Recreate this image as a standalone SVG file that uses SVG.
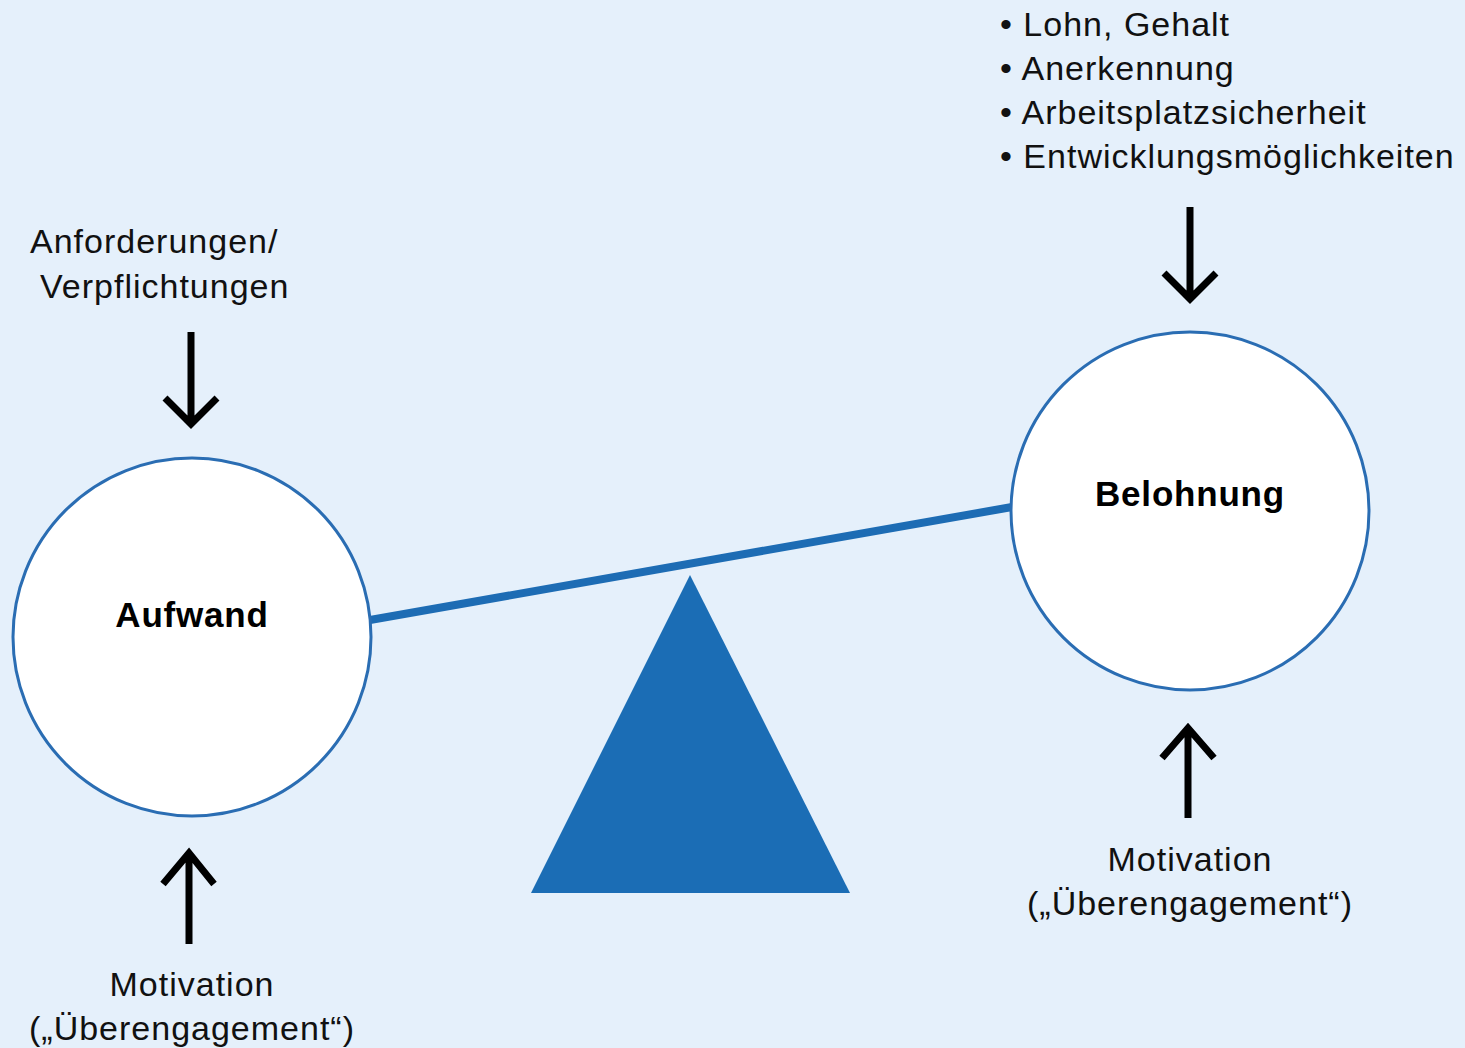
<svg xmlns="http://www.w3.org/2000/svg" width="1465" height="1048" viewBox="0 0 1465 1048">
<style>
.t{font-family:"Liberation Sans",Arial,sans-serif;font-size:34px;fill:#111;letter-spacing:1px;}
.b{font-family:"Liberation Sans",Arial,sans-serif;font-size:35px;font-weight:bold;fill:#000;text-anchor:middle;letter-spacing:0.8px;}
.c{text-anchor:middle;}
.node{fill:#fff;stroke:#2a6db3;stroke-width:3;}
.arr{fill:none;stroke:#000;stroke-width:7;stroke-linejoin:miter;}
</style>
<rect width="1465" height="1048" fill="#e5f0fb"/>
<g id="connectors">
<line x1="370" y1="620" x2="1012" y2="507" stroke="#1d6cb4" stroke-width="8"/>
<path class="arr" d="M191 332V423M165 398L191 424L217 398"/>
<path class="arr" d="M1190 207V298M1164 273L1190 299L1216 273"/>
<path class="arr" d="M189 944V852M163 884L189 853L214 884"/>
<path class="arr" d="M1188 818V731M1162 758L1188 728L1214 758"/>
</g>
<g id="fulcrum"><polygon points="690,575 531,893 850,893" fill="#1b6db5"/></g>
<g id="aufwand"><circle class="node" cx="192" cy="637" r="179"/><text class="b" x="192" y="627">Aufwand</text></g>
<g id="belohnung"><circle class="node" cx="1190" cy="511" r="179"/><text class="b" x="1190" y="506">Belohnung</text></g>
<g id="anforderungen"><text class="t" x="30" y="253">Anforderungen/</text><text class="t" x="40" y="298">Verpflichtungen</text></g>
<g id="rewards"><text class="t" x="1000" y="36">• Lohn, Gehalt</text><text class="t" x="1000" y="80">• Anerkennung</text><text class="t" x="1000" y="124">• Arbeitsplatzsicherheit</text><text class="t" x="1000" y="168">• Entwicklungsmöglichkeiten</text></g>
<g id="motivation-left"><text class="t c" x="192" y="996">Motivation</text><text class="t c" x="192" y="1040">(„Überengagement“)</text></g>
<g id="motivation-right"><text class="t c" x="1190" y="871">Motivation</text><text class="t c" x="1190" y="915">(„Überengagement“)</text></g>
</svg>
